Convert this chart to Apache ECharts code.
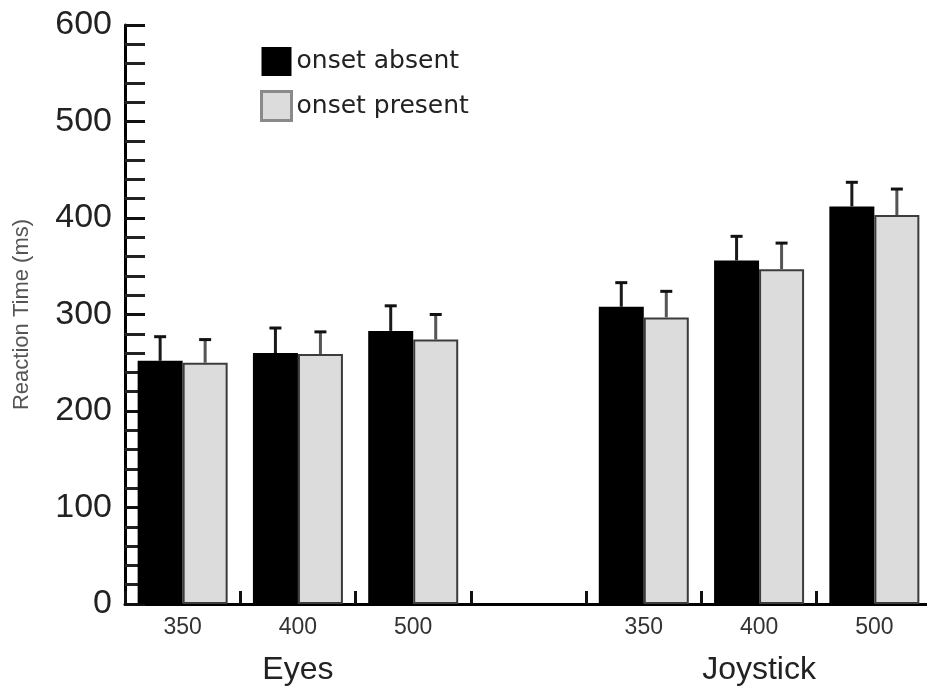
<!DOCTYPE html>
<html>
<head>
<meta charset="utf-8">
<script src="https://cdn.jsdelivr.net/npm/echarts@6/dist/echarts.min.js"></script>
<style>
  html, body { margin: 0; padding: 0; background: #fff; }
  #chart { width: 927px; height: 689px; }
</style>
</head>
<body>
<div id="chart"></div>
<script>
// SOA condition per response mode; the blank slot separates Eyes from Joystick
const categories = ['350', '400', '500', '', '350', '400', '500'];
const groupLabels = ['', 'Eyes', '', '', '', 'Joystick', ''];
const seriesNames = ['onset absent', 'onset present'];

// mean reaction times (ms)
const onsetAbsent  = [252, 260, 283, '-', 308, 356, 412];
const onsetPresent = [250, 259, 274, '-', 297, 347, 403];

// error bar extents above each mean (ms)
const errAbsent  = [25, 26, 26, '-', 25, 25, 25];
const errPresent = [24, 23, 26, '-', 27, 27, 27];

const yTicks = [0, 100, 200, 300, 400, 500, 600];

const BAR_W = 45;
const FONT = '"Liberation Sans", Arial, sans-serif';

function errData(vals, errs) {
  const out = [];
  vals.forEach((v, i) => {
    if (v !== '-') out.push([i, v, errs[i]]);
  });
  return out;
}

function errRenderer(offset, color) {
  return function (params, api) {
    const i = api.value(0);
    const v = api.value(1);
    const e = api.value(2);
    const base = api.coord([i, v]);
    const top = api.coord([i, v + e]);
    const x = base[0] + offset;
    const cap = 6;
    return {
      type: 'group',
      children: [
        { type: 'line', shape: { x1: x, y1: base[1], x2: x, y2: top[1] },
          style: { stroke: color, lineWidth: 3 } },
        { type: 'line', shape: { x1: x - cap, y1: top[1], x2: x + cap, y2: top[1] },
          style: { stroke: '#111', lineWidth: 3 } }
      ]
    };
  };
}

const chart = echarts.init(document.getElementById('chart'), null, { renderer: 'canvas' });

chart.setOption({
  animation: false,
  backgroundColor: '#ffffff',
  textStyle: { fontFamily: FONT },
  grid: { left: 125, width: 807, top: 25, bottom: 85, containLabel: false, outerBoundsMode: 'none' },
  legend: {
    orient: 'vertical',
    left: 255,
    top: 42,
    itemWidth: 30,
    itemHeight: 29,
    itemGap: 14,
    icon: 'rect',
    textStyle: { fontSize: 25, color: '#222', fontFamily: '"DejaVu Sans", sans-serif', padding: [0, 0, 0, 0] },
    data: [
      { name: seriesNames[0], itemStyle: { color: '#000', borderWidth: 0 } },
      { name: seriesNames[1], itemStyle: { color: '#dcdcdc', borderColor: '#8a8a8a', borderWidth: 3 } }
    ]
  },
  xAxis: [
    {
      type: 'category',
      data: categories,
      position: 'bottom',
      axisLine: { show: true, onZero: false, lineStyle: { color: '#000', width: 3 } },
      axisTick: { show: true, inside: true, length: 13, interval: 0, alignWithLabel: false,
                  lineStyle: { color: '#111', width: 3 } },
      axisLabel: { interval: 0, fontSize: 23, color: '#333', margin: 12 },
      splitLine: { show: false }
    },
    {
      type: 'category',
      data: groupLabels,
      position: 'bottom',
      gridIndex: 0,
      axisLine: { show: false },
      axisTick: { show: false },
      axisLabel: { interval: 0, fontSize: 32, color: '#222', margin: 50 },
      splitLine: { show: false }
    }
  ],
  yAxis: {
    type: 'value',
    min: yTicks[0],
    max: yTicks[yTicks.length - 1],
    interval: yTicks[1] - yTicks[0],
    name: 'Reaction Time (ms)',
    nameLocation: 'middle',
    nameGap: 92,
    nameTextStyle: { fontSize: 22, color: '#555' },
    axisLine: { show: true, lineStyle: { color: '#000', width: 3 } },
    axisTick: { show: true, inside: true, length: 20, lineStyle: { color: '#111', width: 3 } },
    minorTick: { show: true, splitNumber: 5, length: 20, lineStyle: { color: '#222', width: 3 } },
    axisLabel: { fontSize: 34, color: '#222', margin: 13 },
    splitLine: { show: false }
  },
  series: [
    {
      name: seriesNames[0],
      type: 'bar',
      data: onsetAbsent,
      barWidth: BAR_W,
      barGap: '0%',
      itemStyle: { color: '#000' },
      z: 2
    },
    {
      name: seriesNames[1],
      type: 'bar',
      data: onsetPresent,
      barWidth: BAR_W,
      barGap: '0%',
      itemStyle: { color: '#dcdcdc', borderColor: '#3c3c3c', borderWidth: 2 },
      z: 2
    },
    {
      type: 'custom',
      name: 'err-absent',
      data: errData(onsetAbsent, errAbsent),
      renderItem: errRenderer(-BAR_W / 2, '#1a1a1a'),
      z: 3,
      silent: true
    },
    {
      type: 'custom',
      name: 'err-present',
      data: errData(onsetPresent, errPresent),
      renderItem: errRenderer(BAR_W / 2, '#555'),
      z: 3,
      silent: true
    }
  ]
});
</script>
</body>
</html>
